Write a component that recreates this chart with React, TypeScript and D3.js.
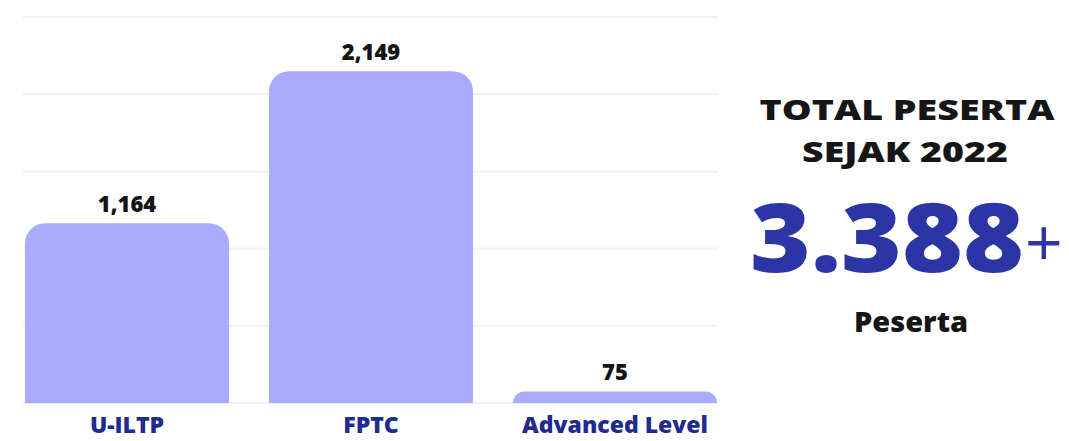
import React from 'react';
import * as d3 from 'd3';

const categories = ['U-ILTP', 'FPTC', 'Advanced Level'];
const values = [1164, 2149, 75];
const yTicks = [0, 500, 1000, 1500, 2000, 2500];

const headLines = ['TOTAL PESERTA', 'SEJAK 2022'];
const totalText = '3.388';
const unitText = 'Peserta';

const W = 1069;
const H = 441;
const font = "'Open Sans', 'Noto Sans', sans-serif";

function topRoundedBar(x: number, y: number, w: number, h: number, r: number) {
  const rr = Math.min(r, h, w / 2);
  const p = d3.path();
  p.moveTo(x, y + h);
  p.lineTo(x, y + rr);
  p.arcTo(x, y, x + rr, y, rr);
  p.lineTo(x + w - rr, y);
  p.arcTo(x + w, y, x + w, y + rr, rr);
  p.lineTo(x + w, y + h);
  p.closePath();
  return p.toString();
}

export default function App() {
  const xScale = d3
    .scaleBand()
    .domain(categories)
    .range([25, 717])
    .paddingInner(0.164)
    .paddingOuter(0);

  const yScale = d3.scaleLinear().domain([0, 2500]).range([403, 17]);
  const fmt = d3.format(',');

  return (
    <svg
      width={W}
      height={H}
      style={{ position: 'absolute', left: 0, top: 0, background: '#fff' }}
      fontFamily={font}
    >
      {/* grid */}
      {yTicks.map((t) => (
        <line
          key={t}
          x1={23}
          x2={718}
          y1={yScale(t)}
          y2={yScale(t)}
          stroke="#f1f1f3"
          strokeWidth={2}
        />
      ))}

      {/* bars */}
      {categories.map((c, i) => {
        const x = xScale(c) as number;
        const y = yScale(values[i]);
        return (
          <g key={c}>
            <path
              d={topRoundedBar(x, y, xScale.bandwidth(), yScale(0) - y, 20)}
              fill="#a9acfd"
            />
            <text
              x={x + xScale.bandwidth() / 2}
              y={y - 11}
              textAnchor="middle"
              fontSize={22}
              fontWeight={800}
              fill="#141414"
            >
              {fmt(values[i])}
            </text>
            <text
              x={x + xScale.bandwidth() / 2}
              y={433}
              textAnchor="middle"
              fontSize={23}
              fontWeight={800}
              fill="#1f2b8e"
            >
              {c}
            </text>
          </g>
        );
      })}

      {/* summary */}
      <text x={907} y={120} textAnchor="middle" fontSize={29} fontWeight={800} fill="#161616"
        textLength={295} lengthAdjust="spacingAndGlyphs">
        {headLines[0]}
      </text>
      <text x={905} y={162} textAnchor="middle" fontSize={29} fontWeight={800} fill="#161616"
        textLength={206} lengthAdjust="spacingAndGlyphs">
        {headLines[1]}
      </text>
      <text x={1024} y={272} textAnchor="end" fontSize={96} fontWeight={800} fill="#2b35a6"
        textLength={274} lengthAdjust="spacingAndGlyphs">
        {totalText}
      </text>
      <text x={1025} y={266} textAnchor="start" fontSize={66} fontWeight={400} fill="#2b35a6">
        +
      </text>
      <text x={911} y={332} textAnchor="middle" fontSize={29} fontWeight={800} fill="#161616">
        {unitText}
      </text>
    </svg>
  );
}
